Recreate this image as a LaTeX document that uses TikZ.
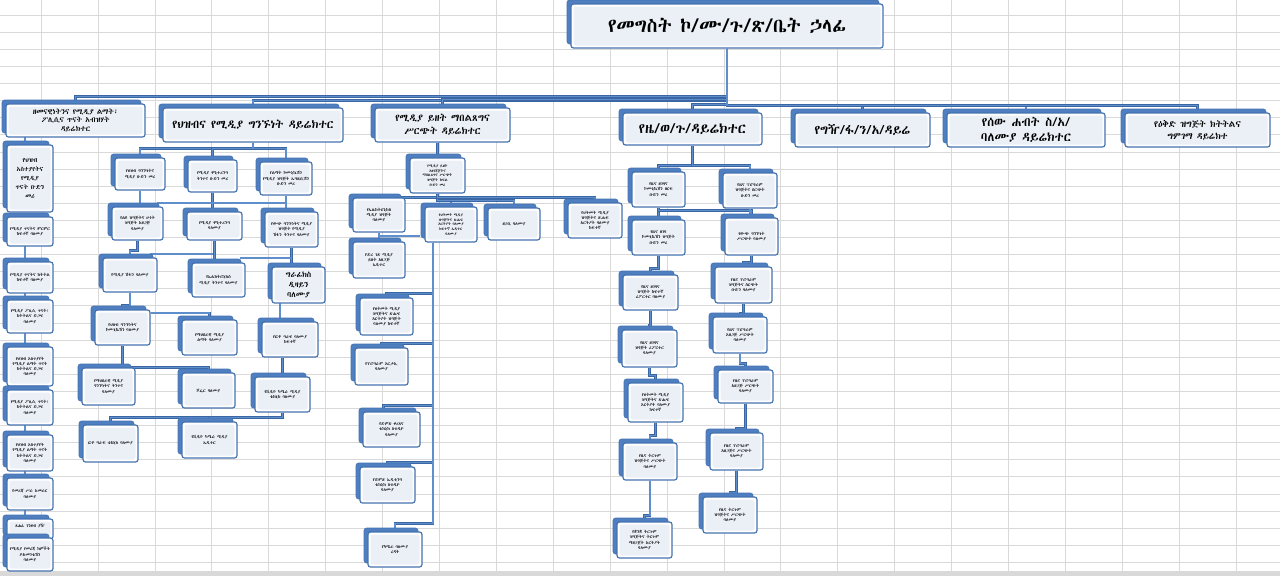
\documentclass[tikz,border=0pt]{standalone}
\usepackage{fontspec}
\usetikzlibrary{shadows,calc}
\IfFontExistsTF{Abyssinica SIL}{\newfontfamily\eth{Abyssinica SIL}}{%
 \IfFontExistsTF{FreeSerif}{\newfontfamily\eth{FreeSerif}}{\newfontfamily\eth{DejaVu Sans}}}
\definecolor{bord}{HTML}{4472B0}
\definecolor{shad}{HTML}{4F7FC0}
\definecolor{innr}{HTML}{EBF0F7}
\definecolor{condk}{HTML}{3A66A4}
\definecolor{conlt}{HTML}{5E8ECC}
\definecolor{gridc}{HTML}{D9D9D9}
\pgfdeclarelayer{gridl}
\pgfdeclarelayer{conl}
\pgfsetlayers{gridl,conl,main}
\tikzset{
 bx/.style={draw=bord, line width=1.2pt, fill=white, rounded corners=2.5pt, align=center, inner sep=1pt, text=black,
   font=\eth\fontsize{4.4}{5.2}\selectfont,
   general shadow={fill=shad, draw=bord, line width=0.6pt, shadow xshift=-4pt, shadow yshift=4pt},
   path picture={\fill[innr] ([shift={(2.5pt,2.5pt)}]path picture bounding box.south west) rectangle ([shift={(-2.5pt,-2.5pt)}]path picture bounding box.north east);}},
 con/.style={draw=condk, line width=0.7pt, double=conlt, double distance=1.5pt},
 gridline/.style={draw=gridc, line width=0.6pt},
}
\begin{document}
\begin{tikzpicture}[x=1pt,y=-1pt]
\useasboundingbox (0,0) rectangle (1280,576);
\begin{pgfonlayer}{gridl}
\fill[white] (0,0) rectangle (1280,576);
\foreach \i in {0,...,22} \draw[gridline] ({41+56.9*\i},0) -- ({41+56.9*\i},576);
\foreach \j in {0,...,32} \draw[gridline] (0,{15+17.1*\j}) -- (1280,{15+17.1*\j});
\fill[gray!30] (0,571) rectangle (1280,576);
\end{pgfonlayer}

% title
\node[bx, minimum width=312pt, minimum height=44pt, font=\eth\fontsize{19.5}{22}\selectfont] (t) at (727,26) {የመግስት ኮ/ሙ/ጉ/ጽ/ቤት ኃላፊ};

% level 2
\node[bx, minimum width=139pt, minimum height=33pt, font=\eth\fontsize{7.5}{8.5}\selectfont] (b1) at (75.5,120.5) {ዘመናዊነትንና የሚዲያ ልማት፣\\ፖሊሲና ጥናት አብዝሃት\\ዳይሬክተር};
\node[bx, minimum width=180pt, minimum height=34pt, font=\eth\fontsize{11.5}{13}\selectfont] (b2) at (253,125) {የህዝብና የሚዲያ ግንኙነት ዳይሬክተር};
\node[bx, minimum width=135pt, minimum height=34pt, font=\eth\fontsize{10}{13}\selectfont] (b3) at (442.5,125) {የሚዲያ ይዘት ማበልጸግና\\ሥርጭት ዳይሬክተር};
\node[bx, minimum width=139pt, minimum height=32pt, font=\eth\fontsize{14}{16}\selectfont] (b4) at (692.5,129) {የዜ/ወ/ጉ/ዳይሬክተር};
\node[bx, minimum width=135pt, minimum height=34pt, font=\eth\fontsize{12.8}{15}\selectfont] (b5) at (862.5,130) {የግዥ/ፋ/ን/አ/ዳይሬ};
\node[bx, minimum width=158pt, minimum height=34pt, font=\eth\fontsize{12.5}{15}\selectfont] (b6) at (1026,130) {የሰው ሐብት ስ/አ/\\ባለሙያ ዳይሬክተር};
\node[bx, minimum width=145pt, minimum height=34pt, font=\eth\fontsize{9.2}{12}\selectfont] (b7) at (1197.5,130) {የዕቅድ ዝግጅት ክትትልና\\ግምገማ ዳይሬክተ};

% column 1
\node[bx, minimum width=46pt, minimum height=67pt, font=\eth\fontsize{6.3}{9}\selectfont] (c1) at (30,178.5) {የህዝብ\\አስተያየትና\\የሚዲያ\\ጥናት ቡድን\\መሪ};
\node[bx, minimum width=46pt, minimum height=29pt] (c2) at (30,231.5) {የሚዲያ ጥናትና ምርምር\\ከፍተኛ ባለሙያ};
\node[bx, minimum width=46pt, minimum height=31pt] (c3) at (30,277.5) {የሚዲያ ጥናትና ክትትል\\ከፍተኛ ባለሙያ};
\node[bx, minimum width=46pt, minimum height=33pt] (c4) at (30,316.5) {የሚዲያ ፖሊሲ ጥናት፣\\ክትትልና ድጋፍ\\ባለሙያ};
\node[bx, minimum width=46pt, minimum height=39pt] (c5) at (30,366.5) {የህዝብ አስተያየት\\የሚዲያ ልማት ጥናት\\ክትትልና ድጋፍ\\ባለሙያ};
\node[bx, minimum width=46pt, minimum height=35pt] (c6) at (30,407.5) {የሚዲያ ፖሊሲ ጥናት፣\\ክትትልና ድጋፍ\\ባለሙያ};
\node[bx, minimum width=46pt, minimum height=36pt] (c7) at (30,453) {የህዝብ አስተያየት\\የሚዲያ ልማት ጥናት\\ክትትልና ድጋፍ\\ባለሙያ};
\node[bx, minimum width=46pt, minimum height=32pt] (c8) at (30,494) {የመረጃ ሥራ አመራር\\ባለሙያ};
\node[bx, minimum width=46pt, minimum height=20pt, text depth=6pt] (c9) at (30,529) {ጸሐፊ ገንዘብ ያዥ};
\node[bx, minimum width=46pt, minimum height=33pt] (c10) at (30,554.5) {የሚዲያ የመረጃ ክምችት\\ዶክመንቴሽን\\ባለሙያ};

% column 2
\node[bx, minimum width=50pt, minimum height=32pt] (r1a) at (140,174) {የህዝብ ግንኙነትና\\ሚዲያ ቡድን መሪ};
\node[bx, minimum width=49pt, minimum height=32pt] (r1b) at (212.5,176) {የሚዲያ ሞኒተሪንግ\\ትንተና ቡድን መሪ};
\node[bx, minimum width=52pt, minimum height=33pt] (r1c) at (286,178.5) {የልማት ኮሙኒኬሽን\\የሚዲያ ዝግጅት ኤግዚቢሽን\\ቡድን መሪ};
\node[bx, minimum width=51pt, minimum height=33pt] (r2a) at (137.5,223.5) {የልዩ ዝግጅትና ሁነት\\ዝግጅት አዘጋጅ\\ባለሙያ};
\node[bx, minimum width=55pt, minimum height=28pt] (r2b) at (214.5,226) {የሚዲያ ሞኒተሪንግ\\ባለሙያ};
\node[bx, minimum width=53pt, minimum height=35pt] (r2c) at (291.5,229.5) {የውጭ ግንኙነትና ሚዲያ\\ዝግጅት የሚዲያ\\ሽፋን ትንተና ባለሙያ};
\node[bx, minimum width=54pt, minimum height=34pt] (r3a) at (130,275) {የሚዲያ ሽፋን ባለሙያ};
\node[bx, minimum width=53pt, minimum height=34pt] (r3b) at (218.5,280) {የኤሌክትሮኒክስ\\ሚዲያ ትንተና ባለሙያ};
\node[bx, minimum width=53pt, minimum height=36pt, font=\eth\fontsize{8}{10}\selectfont] (r3c) at (298.5,285) {ግራፊክስ\\ዲዛይን\\ባለሙያ};
\node[bx, minimum width=55pt, minimum height=35pt] (r4a) at (122.5,327.5) {የህዝብ ግንኙነትና\\ኮሙኒኬሽን ባለሙያ};
\node[bx, minimum width=55pt, minimum height=35pt] (r4b) at (209.5,337.5) {የማህበራዊ ሚዲያ\\ልማት ባለሙያ};
\node[bx, minimum width=56pt, minimum height=35pt] (r4c) at (290,339.5) {የፎቶ ግራፍ ባለሙያ\\ከፍተኛ};
\node[bx, minimum width=53pt, minimum height=37pt] (r5a) at (108.5,386.5) {የማህበራዊ ሚዲያ\\ግንኙነትና ትንተና\\ባለሙያ};
\node[bx, minimum width=53pt, minimum height=35pt] (r5b) at (208.5,390.5) {ሾፌር ባለሙያ};
\node[bx, minimum width=55pt, minimum height=35pt] (r5c) at (282.5,394.5) {የቪዲዮ ካሜራ ሚዲያ\\ቴክኒክ ባለሙያ};
\node[bx, minimum width=55pt, minimum height=37pt] (r6a) at (110.5,443.5) {ፎቶ ግራፍ ቴክኒክ ባለሙያ};
\node[bx, minimum width=55pt, minimum height=36pt] (r6b) at (209.5,440) {የቪዲዮ ካሜራ ሚዲያ\\ኤዲተር};

% column 3
\node[bx, minimum width=55pt, minimum height=35pt, font=\eth\fontsize{3.9}{4.6}\selectfont] (k1) at (437.5,175.5) {የሚዲያ ይዘት\\አዘገጃጀትና\\ማበልጸግና ሥርጭት\\ዝግጅት ክፍል\\ቡድን መሪ};
\node[bx, minimum width=52pt, minimum height=34pt] (k2a) at (379,215) {የኤሌክትሮኒክስ\\ሚዲያ ዝግጅት\\ባለሙያ};
\node[bx, minimum width=52pt, minimum height=35pt, font=\eth\fontsize{3.9}{4.6}\selectfont] (k2b) at (451,224.5) {የህትመት ሚዲያ\\ዝግጅትና ጽሑፍ\\አርትዖት ባለሙያ\\ከፍተኛ ኤዲተር\\ባለሙያ};
\node[bx, minimum width=52pt, minimum height=32pt] (k2c) at (514,224) {ዘጋቢ ባለሙያ};
\node[bx, minimum width=54pt, minimum height=35pt] (k2d) at (595,220.5) {የህትመት ሚዲያ\\ዝግጅትና ጽሑፍ\\አርትዖት ባለሙያ\\ከፍተኛ};
\node[bx, minimum width=52pt, minimum height=36pt] (k3a) at (379,260) {የድረ ገጽ ሚዲያ\\ይዘት አዘጋጅ\\ኤዲተር};
\node[bx, minimum width=53pt, minimum height=37pt] (k4a) at (386.5,316.5) {የህትመት ሚዲያ\\ዝግጅትና ጽሑፍ\\አርትዖት ዝግጅት\\ባለሙያ ከፍተኛ};
\node[bx, minimum width=53pt, minimum height=37pt] (k4b) at (381.5,366.5) {የፕሮግራም አርታኢ\\ባለሙያ};
\node[bx, minimum width=57pt, minimum height=35pt] (k4c) at (391.5,429.5) {የድምጽ ቀረጻና\\ቴክኒክ ስቱዲዮ\\ባለሙያ};
\node[bx, minimum width=55pt, minimum height=36pt] (k4d) at (387.5,485) {የድምጽ ኤዲቲንግ\\ቴክኒክ ስቱዲዮ\\ባለሙያ};
\node[bx, minimum width=54pt, minimum height=35pt] (k4e) at (395,549.5) {የካሜራ ባለሙያ\\ረዳት};

% column 4
\node[bx, minimum width=53pt, minimum height=35pt] (m1a) at (658.5,189.5) {የዜና ዘገባና\\ኮሙኒኬሽን ዘርፍ\\ቡድን መሪ};
\node[bx, minimum width=54pt, minimum height=35pt] (m1b) at (750,190.5) {የዜና ፕሮግራም\\ዝግጅትና ስርጭት\\ቡድን መሪ};
\node[bx, minimum width=53pt, minimum height=35pt] (m2a) at (658.5,237.5) {የዜና ዘገባ\\ኮሙኒኬሽን ዝግጅት\\ቡድን መሪ};
\node[bx, minimum width=53pt, minimum height=37pt] (m2b) at (751.5,236.5) {የውጭ ግንኙነት\\ሥርጭት ባለሙያ};
\node[bx, minimum width=55pt, minimum height=35pt] (m3a) at (650.5,292.5) {የዜና ዘገባና\\ዝግጅት ከፍተኛ\\ሪፖርተር ባለሙያ};
\node[bx, minimum width=57pt, minimum height=36pt] (m3b) at (743.5,285) {የዜና ፕሮግራም\\ዝግጅትና ስርጭት\\ቡድን ባለሙያ};
\node[bx, minimum width=55pt, minimum height=37pt] (m4a) at (649.5,348.5) {የዜና ዘገባና\\ዝግጅት ሪፖርተር\\ባለሙያ};
\node[bx, minimum width=54pt, minimum height=36pt] (m4b) at (740,335) {የዜና ፕሮግራም\\አዘጋጅ ሥርጭት\\ባለሙያ};
\node[bx, minimum width=55pt, minimum height=39pt] (m5a) at (655.5,402.5) {የህትመት ሚዲያ\\ዝግጅትና ጽሑፍ\\አርትዖት ባለሙያ\\ከፍተኛ};
\node[bx, minimum width=55pt, minimum height=33pt] (m5b) at (745.5,386.5) {የዜና ፕሮግራም\\አዘጋጅ ሥርጭት\\ባለሙያ};
\node[bx, minimum width=54pt, minimum height=37pt] (m6a) at (650,461.5) {የዜና ትርጉም\\ዝግጅትና ሥርጭት\\ባለሙያ};
\node[bx, minimum width=53pt, minimum height=37pt] (m6b) at (736.5,451.5) {የዜና ፕሮግራም\\አዘጋጅና ሥርጭት\\ባለሙያ};
\node[bx, minimum width=55pt, minimum height=36pt] (m7a) at (644.5,540) {የቋንቋ ትርጉም\\ዝግጅትና ትርጉም\\ማዘጋጀት አርትዖት\\ባለሙያ};
\node[bx, minimum width=54pt, minimum height=36pt] (m7b) at (730,515) {የዜና ትርጉም\\ዝግጅትና ሥርጭት\\ባለሙያ};

\coordinate (s1) at (157,203);
\coordinate (s2) at (286,203);
\coordinate (s3) at (150,254);
\coordinate (s4) at (240,258);
\coordinate (s5) at (420,236);

\begin{pgfonlayer}{conl}
\draw[con] (t.south) -- ++(0,48) -| (b1.north);
\draw[con] (t.south) -- ++(0,52) -| (b2.north);
\draw[con] (t.south) -- ++(0,51) -| (b3.north);
\draw[con] (t.south) -- ++(0,56) -| (b4.north);
\draw[con] (t.south) -- ++(0,57) -| (b5.north);
\draw[con] (t.south) -- ++(0,57) -| (b6.north);
\draw[con] (t.south) -- ++(0,57) -| (b7.north);
\draw[con] ([xshift=-5pt]c1.north) -- ++(0,-10);
\draw[con] ([xshift=-5pt]c1.south) -- ([xshift=-5pt]c10.north);
\draw[con] (b2.south) -- ++(0,6) -| (r1a.north);
\draw[con] (b2.south) -- ++(0,6) -| (r1b.north);
\draw[con] (b2.south) -- ++(0,6) -| (r1c.north);
\draw[con] (r1a.south) -- (r1a.south |- r2a.north);
\draw[con] (r1b.south) -- (r1b.south |- r2b.north);
\draw[con] (r1c.south) -- (r1c.south |- r2c.north);
\draw[con] (s1) -- (s2);
\draw[con] (r2a.south) -- ++(0,10) -| (r3a.north);
\draw[con] (r2b.south) |- (s3);
\draw[con] (r2b.south) -- (r2b.south |- r3b.north);
\draw[con] (r2c.south) -- (r2c.south |- r3c.north);
\draw[con] (s4) -- (s4 -| r2c.south);
\draw[con] (r3a.south) -- ++(0,13) -| (r4a.north);
\draw[con] ([yshift=14.5pt]r4a.east) -| (r4b.north);
\draw[con] ([xshift=-10pt]r4c.north) -- ++(0,-19);
\draw[con] (r4a.south) -- ++(0,22) -| (r5a.north);
\draw[con] (r4a.south) -- ++(0,22) -| (r5b.north);
\draw[con] (r5c.north) -- (r5c.north |- r4c.south);
\draw[con] (r5c.south) -- ++(0,5) -| (r6a.north);
\draw[con] (r5c.south) -- ++(0,5) -| (r6b.north);
\draw[con] (k1.north) -- (k1.north |- b3.south);
\draw[con] (k1.south) -- ++(0,4) -| (k2a.north);
\draw[con] (k1.south) -- ++(0,4) -| (k2b.north);
\draw[con] (k1.south) -- ++(0,7) -| (k2c.north);
\draw[con] (k1.south) -- ++(0,4) -| (k2d.north);
\draw[con] (k2a.south) -- (k2a.south |- k3a.north);
\draw[con] (k2a.south |- s5) -- (s5);
\draw[con] ([xshift=-18pt]k2b.south) -- ++(0,51) -| (k4a.north);
\draw[con] ([xshift=-18pt]k2b.south) -- ++(0,101) -| (k4b.north);
\draw[con] ([xshift=-18pt]k2b.south) -- ++(0,163) -| ([xshift=-8pt]k4c.north);
\draw[con] ([xshift=-18pt]k2b.south) -- ++(0,220) -| (k4d.north);
\draw[con] ([xshift=-18pt]k2b.south) -- ++(0,281) -| (k4e.north);
\draw[con] (b4.south) -- ++(0,20) -| (m1a.north);
\draw[con] (b4.south) -- ++(0,20) -| (m1b.north);
\draw[con] (m1a.south) -- (m2a.north);
\draw[con] (m1a.south) -- ++(0,3) -| (m2b.north);
\draw[con] (m1b.south) -- (m1b.south |- m2b.north);
\draw[con] (m2a.south) -- ++(0,13) -| (m3a.north);
\draw[con] (m2b.south) -- ++(0,7) -| (m3b.north);
\draw[con] (m3a.south) -- ++(0,15) -| (m4a.north);
\draw[con] (m3b.south) -- ++(0,10) -| (m4b.north);
\draw[con] (m4a.south) -- ++(0,8) -| (m5a.north);
\draw[con] (m4b.south) -- ++(0,10) -| (m5b.north);
\draw[con] (m5a.south) -- ++(0,13) -| (m6a.north);
\draw[con] (m5b.south) -- ++(0,25) -| (m6b.north);
\draw[con] (m6a.south) -- ++(0,35) -| (m7a.north);
\draw[con] (m6b.south) -- ++(0,22) -| (m7b.north);
\end{pgfonlayer}
\end{tikzpicture}
\end{document}
